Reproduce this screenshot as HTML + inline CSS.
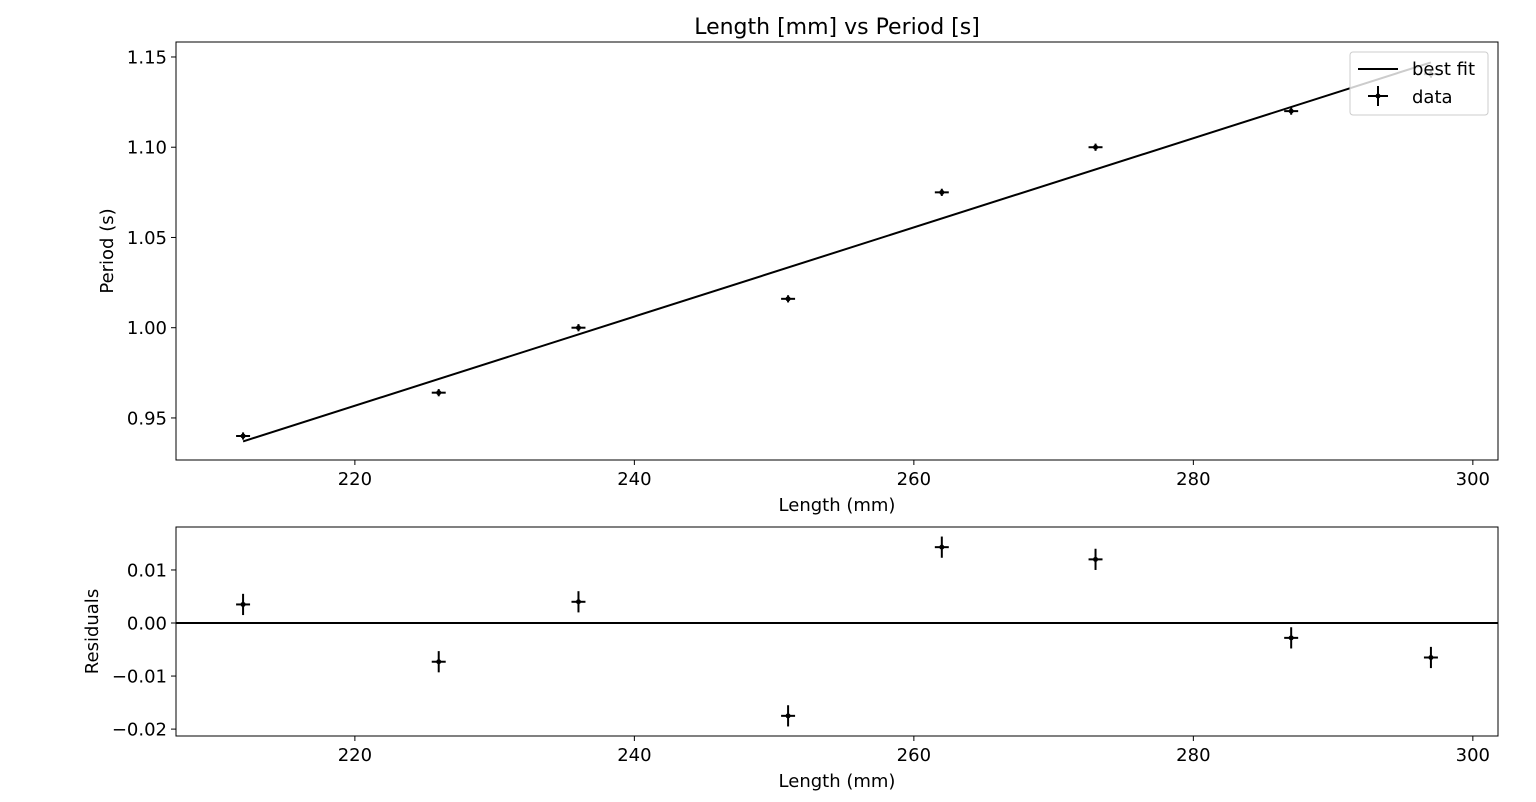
<!DOCTYPE html>
<html><head><meta charset="utf-8"><style>
body{margin:0;background:#fff}
svg{display:block;font-family:"DejaVu Sans","Liberation Sans",sans-serif}
</style></head><body>
<svg id="chart" width="1536" height="802" xmlns="http://www.w3.org/2000/svg">
<text x="837" y="34" font-size="22" text-anchor="middle">Length [mm] vs Period [s]</text>
<g id="topPanel"></g><g id="botPanel"></g>
</svg>
<script>
const lengths=[212,226,236,251,262,273,287,297];
const periods=[0.940,0.964,1.000,1.016,1.075,1.100,1.120,1.1405];
const residuals=[0.0035,-0.0073,0.004,-0.0175,0.0143,0.012,-0.0028,-0.0065];
const fitStart=[212,0.937];
const fitEnd=[297,1.147];
const xTicks=[220,240,260,280,300];
const yTicksTop=[0.95,1.00,1.05,1.10,1.15];
const yTicksBot=[-0.02,-0.01,0.00,0.01];
const xErr=0.5, yErrTop=0.002, yErrBot=0.002;
const NS="http://www.w3.org/2000/svg";
function mk(p,t,a,txt){const e=document.createElementNS(NS,t);for(const k in a)e.setAttribute(k,a[k]);if(txt!==undefined)e.textContent=txt;p.appendChild(e);return e;}
function panel(g,L,R,T,B,xmin,xmax,ymin,ymax,yTicks,fmt,ylabel,name){
 const sx=v=>L+(v-xmin)/(xmax-xmin)*(R-L), sy=v=>B-(v-ymin)/(ymax-ymin)*(B-T);
 const f=mk(g,'rect',{x:L,y:T,width:R-L,height:B-T,fill:'none',stroke:'#000','stroke-width':1});
 
 
 xTicks.forEach(t=>{const x=sx(t);mk(g,'line',{x1:x,x2:x,y1:B,y2:B+5,stroke:'#000'});
  const tx=mk(g,'text',{x:x,y:B+25,'font-size':18,'text-anchor':'middle'},String(t));
  
  });
 yTicks.forEach(t=>{const y=sy(t);mk(g,'line',{x1:L-5,x2:L,y1:y,y2:y,stroke:'#000'});
  const tx=mk(g,'text',{x:L-9,y:y+6.5,'font-size':18,'text-anchor':'end'},fmt(t));
  
  });
 const xl=mk(g,'text',{x:(L+R)/2,y:B+51,'font-size':18,'text-anchor':'middle'},'Length (mm)');
 
 
 const yl=mk(g,'text',{'font-size':18,'text-anchor':'middle'},ylabel);
 yl.setAttribute('transform','translate('+(name==='main'?113:98)+','+((T+B)/2)+') rotate(-90)');
 
 
 return {sx,sy};
}
const topG=document.getElementById('topPanel'),botG=document.getElementById('botPanel');
const A=panel(topG,176,1498,42,460,207.2,301.8,0.9267,1.1583,yTicksTop,v=>v.toFixed(2),'Period (s)','main');
const fl=mk(topG,'line',{x1:A.sx(fitStart[0]),y1:A.sy(fitStart[1]),x2:A.sx(fitEnd[0]),y2:A.sy(fitEnd[1]),stroke:'#000','stroke-width':2});


function pts(g,S,ys,ye,name){lengths.forEach((l,i)=>{const x=S.sx(l),y=S.sy(ys[i]);
 const grp=mk(g,'g',{});
 
 
 mk(grp,'line',{x1:S.sx(l-xErr),x2:S.sx(l+xErr),y1:y,y2:y,stroke:'#000','stroke-width':2});
 mk(grp,'line',{x1:x,x2:x,y1:S.sy(ys[i]-ye),y2:S.sy(ys[i]+ye),stroke:'#000','stroke-width':2});
 mk(grp,'circle',{cx:x,cy:y,r:2.5,fill:'#000'});});}
pts(topG,A,periods,yErrTop,'data');
const lg=mk(topG,'g',{});


mk(lg,'rect',{x:1350,y:52,width:138,height:63,rx:3,fill:'#fff','fill-opacity':0.8,stroke:'#ccc'});
mk(lg,'line',{x1:1358,x2:1398,y1:69,y2:69,stroke:'#000','stroke-width':2});
mk(lg,'text',{x:1412,y:75,'font-size':18},'best fit');
mk(lg,'line',{x1:1368,x2:1388,y1:96,y2:96,stroke:'#000','stroke-width':2});
mk(lg,'line',{x1:1378,x2:1378,y1:86,y2:106,stroke:'#000','stroke-width':2});
mk(lg,'circle',{cx:1378,cy:96,r:2.5,fill:'#000'});
mk(lg,'text',{x:1412,y:103,'font-size':18},'data');
const B2=panel(botG,176,1498,527,736,207.2,301.8,-0.0213,0.0181,yTicksBot,v=>(v<0?'\u2212':'')+Math.abs(v).toFixed(2),'Residuals','resid');
const zl=mk(botG,'line',{x1:176,x2:1498,y1:B2.sy(0),y2:B2.sy(0),stroke:'#000','stroke-width':2});


pts(botG,B2,residuals,yErrBot,'residual');
</script>
</body></html>
